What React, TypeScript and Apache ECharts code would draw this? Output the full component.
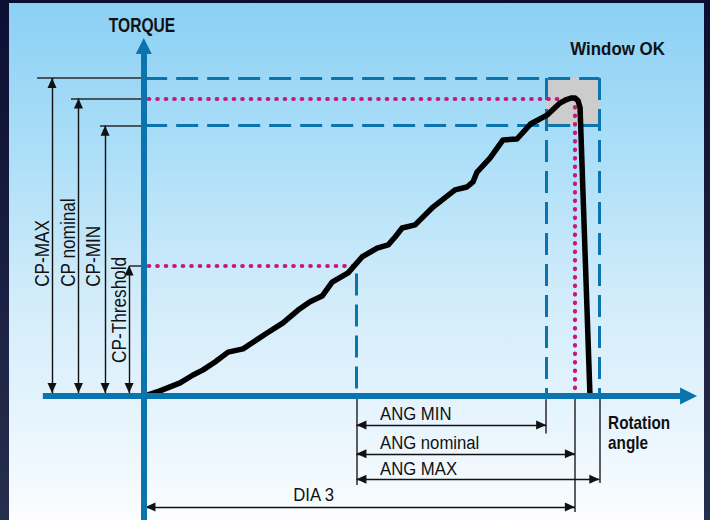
import React, { useEffect, useRef } from "react";
import * as echarts from "echarts";

// ---------------- data (angle in deg, torque in % of CP-MAX) ----------------
const curveAngle = [
  0.9, 11.3, 25.3, 34.3, 41.3, 49.6, 58.7, 69.1, 77.4, 85.8, 96.9, 107.4, 115.7,
  124.1, 131.1, 142.2, 151.9, 162.4, 170.1, 174.9, 179.8, 188.8, 201.3, 216.6,
  224.9, 229.1, 231.9, 240.9, 250.0, 259.7, 269.1, 280.9, 289.6, 293.8, 297.3,
  300.1, 302.2, 303.6, 310.5,
];
const curveTorque = [
  0, 1.6, 4.1, 6.6, 8.2, 10.7, 13.8, 14.8, 17.3, 19.8, 23.0, 27.0, 29.6, 31.4,
  35.8, 38.7, 43.7, 46.5, 47.5, 50.0, 52.8, 53.8, 59.4, 64.8, 65.7, 67.3, 70.4,
  74.8, 80.5, 80.8, 85.5, 88.4, 92.1, 93.1, 93.7, 93.7, 92.8, 90.6, 0,
];
const torqueLimitNames = ["CP-MAX", "CP nominal", "CP-MIN", "CP-Threshold"];
const torqueLimits = [100, 93.5, 85, 41];
const angleLimitNames = ["ANG MIN", "ANG nominal", "ANG MAX"];
const angleLimits = [280, 300, 317];
const thresholdAngle = 148;
const dia3Name = "DIA 3";
const yAxisTitle = "TORQUE";
const xAxisTitle = "Rotation\nangle";
const windowTitle = "Window OK";

// ---------------- layout (in axis units) ----------------
const X_MIN = -100;
const X_MAX = 394;
const Y_MIN = -39;
const Y_MAX = 124.5;
const LEFT_DIM_X = [-63.8, -45.4, -26.9, -10.2];
const LEFT_EXT_X = [-74.2, -50.6, -30.4, -9.5];
const LEFT_LABEL_X = [-71.0, -52.5, -35.0, -17.0];
const LEFT_LABEL_Y = [34.3, 34.3, 34.3, 10.4];
const BOTTOM_ARROW_Y = [-9.1, -18.2, -26.2];
const BOTTOM_LABEL_Y = [-5.5, -14.8, -22.8];
const BOTTOM_LABEL_X = 164.4;
const BOTTOM_EXT_Y = [-11.8, -36.5, -27.4];
const THRESH_EXT_Y = -28;
const DIA_Y = -34.9;

const BLUE = "#0b73ae";
const PINK = "#c8167c";
const INK = "#111111";
const FONT = '"Liberation Sans", Arial, sans-serif';

const seg = (a1: number, t1: number, a2: number, t2: number, from: any = {}, to: any = {}) => [
  { coord: [a1, t1], ...from },
  { coord: [a2, t2], ...to },
];

const mlBase = {
  silent: true,
  symbol: ["none", "none"],
  label: { show: false },
  emphasis: { disabled: true },
  animation: false,
};

type Lbl = {
  a: number;
  t: number;
  text: string;
  size: number;
  sx: number;
  bold?: boolean;
  rot?: number;
  align: string;
  lh?: number;
};

export default function App() {
  const ref = useRef<HTMLDivElement>(null);

  useEffect(() => {
    if (!ref.current) return;
    const chart = echarts.init(ref.current, undefined, { renderer: "svg" });

    const [cpMax, cpNom, cpMin, cpThr] = torqueLimits;
    const [angMin, angNom, angMax] = angleLimits;

    const labels: Lbl[] = [];
    torqueLimitNames.forEach((n, i) => {
      labels.push({ a: LEFT_LABEL_X[i], t: LEFT_LABEL_Y[i], text: n, size: 20, sx: 0.86, rot: Math.PI / 2, align: "left" });
    });
    angleLimitNames.forEach((n, i) => {
      labels.push({ a: BOTTOM_LABEL_X, t: BOTTOM_LABEL_Y[i], text: n, size: 19, sx: 0.88, align: "left" });
    });
    labels.push({ a: 104, t: -31.1, text: dia3Name, size: 19, sx: 0.88, align: "left" });
    labels.push({ a: -1.2, t: 116.5, text: yAxisTitle, size: 20, sx: 0.78, bold: true, align: "center" });
    labels.push({ a: 329.7, t: 109.1, text: windowTitle, size: 19, sx: 0.89, bold: true, align: "center" });
    labels.push({ a: 323.1, t: -11.6, text: xAxisTitle, size: 18, sx: 0.85, bold: true, align: "left", lh: 20 });

    const arrowEnd = { symbolSize: [9, 10] };

    const option: any = {
      animation: false,
      backgroundColor: new echarts.graphic.LinearGradient(0, 0, 0, 1, [
        { offset: 0, color: "#0b0f33" },
        { offset: 1, color: "#262e4d" },
      ]),
      graphic: [
        {
          type: "rect",
          silent: true,
          z: -10,
          shape: { x: 9, y: 3, width: 695, height: 517 },
          style: {
            fill: new echarts.graphic.LinearGradient(0, 0, 0, 1, [
              { offset: 0, color: "#8bd0f4" },
              { offset: 0.32, color: "#b0e0f8" },
              { offset: 0.57, color: "#d2ecfa" },
              { offset: 0.8, color: "#e6f4fd" },
              { offset: 1, color: "#fbfdff" },
            ]),
          },
        },
      ],
      grid: { left: 0, right: 0, top: 0, bottom: 0, containLabel: false },
      xAxis: { type: "value", min: X_MIN, max: X_MAX, show: false },
      yAxis: { type: "value", min: Y_MIN, max: Y_MAX, show: false },
      series: [
        {
          type: "line",
          name: "window",
          data: [],
          markArea: {
            silent: true,
            z: 1,
            itemStyle: { color: "#cccccc" },
            label: { show: false },
            emphasis: { disabled: true },
            data: [[{ coord: [angMin, cpMax] }, { coord: [angMax, cpMin] }]],
          },
        },
        {
          type: "line",
          name: "limits",
          data: [],
          markLine: {
            ...mlBase,
            z: 2,
            lineStyle: { type: [22, 9], width: 3, color: BLUE, cap: "butt" },
            data: [
              seg(1, cpMax, angMax, cpMax),
              seg(1, cpMin, angMax, cpMin),
              seg(angMin, cpMax, angMin, 0),
              seg(angMax, cpMax, angMax, 0),
              seg(thresholdAngle, 38.5, thresholdAngle, 0),
            ],
          },
        },
        {
          type: "line",
          name: "nominal",
          data: [],
          markLine: {
            ...mlBase,
            z: 3,
            lineStyle: { type: [0.5, 8], width: 4.2, color: PINK, cap: "round" },
            data: [
              seg(3.5, cpNom, angNom, cpNom),
              seg(angNom, cpNom, angNom, 1.2),
              seg(3.5, cpThr, thresholdAngle - 1, cpThr),
            ],
          },
        },
        {
          type: "line",
          name: "dimLines",
          data: [],
          markLine: {
            ...mlBase,
            z: 3,
            lineStyle: { type: "solid", width: 1.5, color: "#2a2a2a" },
            data: [
              ...torqueLimits.map((t, i) => seg(LEFT_EXT_X[i], t, 0, t)),
              seg(thresholdAngle, 0, thresholdAngle, THRESH_EXT_Y),
              ...angleLimits.map((a, i) => seg(a, i === 0 ? -1 : 0, a, BOTTOM_EXT_Y[i])),
            ],
          },
        },
        {
          type: "line",
          name: "dimArrows",
          data: [],
          markLine: {
            ...mlBase,
            z: 3,
            symbol: ["triangle", "triangle"],
            symbolOffset: [
              [0, "50%"],
              [0, "50%"],
            ],
            lineStyle: { type: "solid", width: 1.4, color: INK },
            data: [
              ...torqueLimits.map((t, i) => seg(LEFT_DIM_X[i], t, LEFT_DIM_X[i], 0.9, arrowEnd, arrowEnd)),
              ...angleLimits.map((a, i) =>
                seg(thresholdAngle, BOTTOM_ARROW_Y[i], a, BOTTOM_ARROW_Y[i], arrowEnd, arrowEnd)
              ),
              seg(1.2, DIA_Y, angNom, DIA_Y, arrowEnd, arrowEnd),
            ],
          },
        },
        {
          type: "line",
          name: "torque",
          z: 4,
          clip: false,
          silent: true,
          symbol: "none",
          data: curveAngle.map((a, i) => [a, curveTorque[i]]),
          lineStyle: { color: "#000000", width: 5.5, join: "round", cap: "round" },
        },
        {
          type: "line",
          name: "axes",
          data: [],
          markLine: {
            ...mlBase,
            z: 6,
            symbol: ["none", "triangle"],
            symbolOffset: [
              [0, 0],
              [0, "-10%"],
            ],
            lineStyle: { type: "solid", width: 6, color: BLUE, cap: "butt" },
            data: [
              seg(0, Y_MIN, 0, 109.5, { symbolSize: [16, 16] }, { symbolSize: [16, 16] }),
              seg(-70.2, 0, 377.9, 0, { symbolSize: [17, 17] }, { symbolSize: [17, 17] }),
            ],
          },
        },
        {
          type: "custom",
          name: "labels",
          z: 7,
          silent: true,
          clip: false,
          data: labels.map((l) => [l.a, l.t]),
          renderItem: (params: any, api: any) => {
            const l = labels[params.dataIndex];
            const p = api.coord([api.value(0), api.value(1)]);
            return {
              type: "text",
              x: p[0],
              y: p[1],
              rotation: l.rot || 0,
              scaleX: l.sx,
              style: {
                text: l.text,
                fill: INK,
                fontFamily: FONT,
                fontSize: l.size,
                fontWeight: l.bold ? "bold" : "normal",
                align: l.align,
                verticalAlign: "middle",
                lineHeight: l.lh || l.size,
              },
            };
          },
        },
      ],
    };

    chart.setOption(option);
    return () => chart.dispose();
  }, []);

  return (
    <div
      ref={ref}
      style={{ position: "absolute", left: 0, top: 0, width: 710, height: 520 }}
    />
  );
}
